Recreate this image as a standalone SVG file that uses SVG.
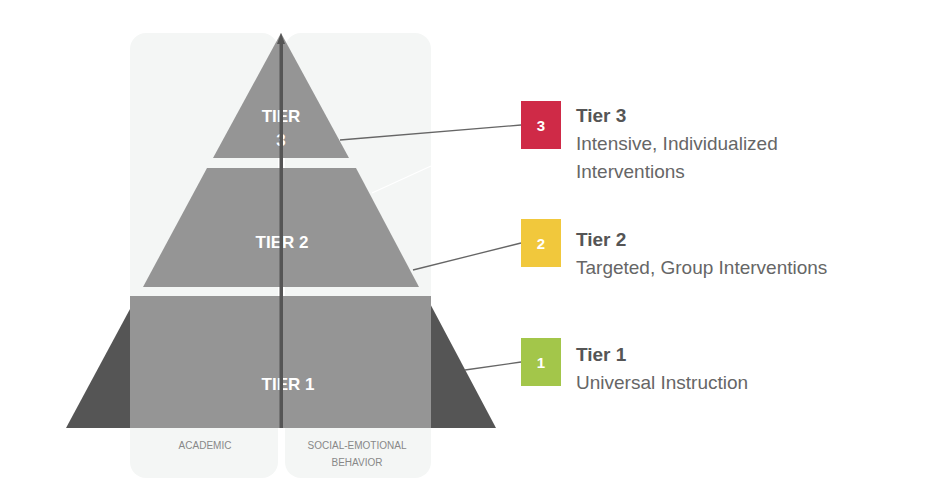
<svg xmlns="http://www.w3.org/2000/svg" width="936" height="482" viewBox="0 0 936 482">
<style>
.col{fill:#f4f6f5}
.tier{fill:#959595}
.side{fill:#555}
.tl{font-family:"Liberation Sans",Arial,sans-serif;font-weight:bold;font-size:17px;fill:#fff;text-anchor:middle}
.cl{font-family:"Liberation Sans",Arial,sans-serif;font-size:10px;fill:#888;text-anchor:middle}
.h{font-family:"Liberation Sans",Arial,sans-serif;font-weight:bold;font-size:19px;fill:#555}
.d{font-family:"Liberation Sans",Arial,sans-serif;font-size:19px;fill:#666}
.n{font-family:"Liberation Sans",Arial,sans-serif;font-weight:bold;font-size:15px;fill:#fff;text-anchor:middle}
.ln{stroke:#666;stroke-width:1.3;fill:none}
</style>
<rect width="936" height="482" fill="#fff"/>
<g id="columns">
<rect class="col" x="130" y="33" width="148" height="445" rx="16"/>
<rect class="col" x="285" y="33" width="146" height="445" rx="16"/>
<text class="cl" x="205" y="449">ACADEMIC</text>
<text class="cl" x="357" y="449">SOCIAL-EMOTIONAL</text>
<text class="cl" x="357" y="466">BEHAVIOR</text>
</g>
<g id="tier1">
<polygon class="side" points="137,296 426,296 496,428 66,428"/>
<rect class="tier" x="130" y="296" width="301" height="132"/>
<text class="tl" x="288" y="390">TIER 1</text>
</g>
<g id="tier2">
<polygon class="tier" points="207,168 356,168 419,287 143,287"/>
<text class="tl" x="282" y="248">TIER 2</text>
</g>
<g id="tier3">
<polygon class="tier" points="281,33 349,158 213,158"/>
<text class="tl" x="281" y="122">TIER</text>
<text class="tl" x="281" y="146">3</text>
</g>
<rect x="279.5" y="40" width="3.5" height="388" fill="#555"/>
<polygon points="281,33 285,44 277,44" fill="#555"/>
<g id="connectors">
<line class="ln" x1="340" y1="140" x2="521" y2="125"/>
<line x1="372" y1="193" x2="431" y2="166" stroke="#fff" stroke-width="1.3"/>
<line class="ln" x1="413" y1="270" x2="521" y2="243"/>
<line class="ln" x1="465" y1="370" x2="521" y2="362"/>
</g>
<g id="badge3"><rect x="521" y="101" width="40" height="48" fill="#cf2a47"/><text class="n" x="541" y="131">3</text>
<text class="h" x="576" y="122">Tier 3</text><text class="d" x="576" y="150">Intensive, Individualized</text><text class="d" x="576" y="178">Interventions</text></g>
<g id="badge2"><rect x="521" y="219" width="40" height="48" fill="#f1c83c"/><text class="n" x="541" y="249">2</text>
<text class="h" x="576" y="246">Tier 2</text><text class="d" x="576" y="274">Targeted, Group Interventions</text></g>
<g id="badge1"><rect x="521" y="338" width="40" height="48" fill="#a3c64a"/><text class="n" x="541" y="368">1</text>
<text class="h" x="576" y="361">Tier 1</text><text class="d" x="576" y="389">Universal Instruction</text></g>
</svg>
